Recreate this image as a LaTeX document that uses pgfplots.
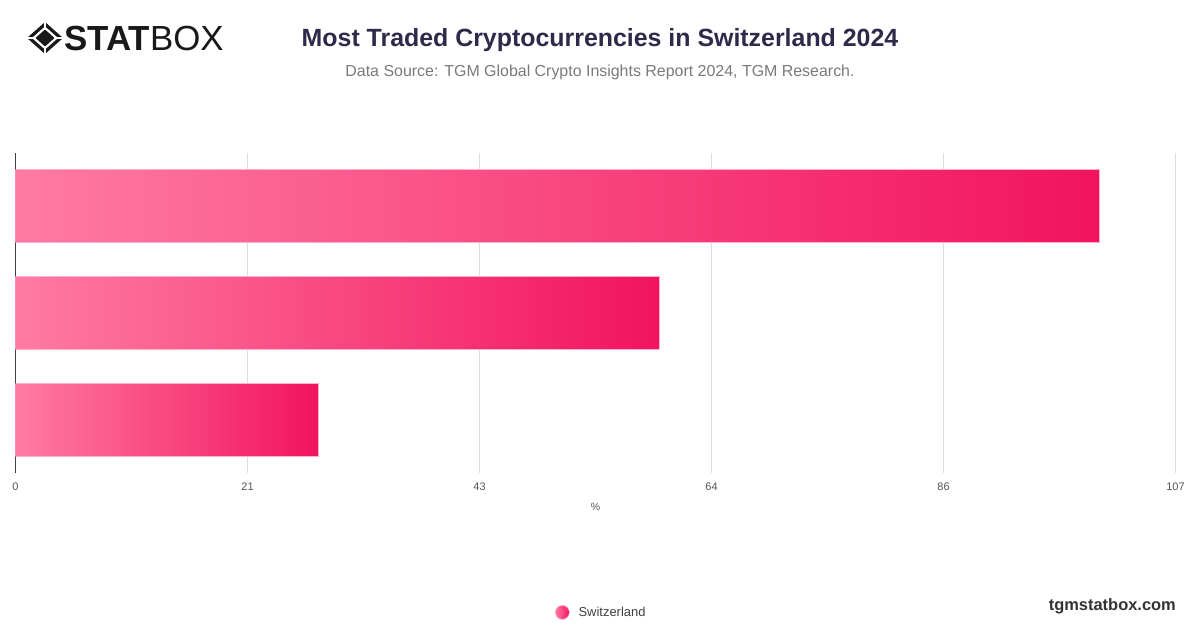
\documentclass[border=0pt]{standalone}
\usepackage{fontspec}
\setmainfont{Liberation Sans}
\usepackage{pgfplots}
\pgfplotsset{compat=1.18}
\definecolor{pinkL}{HTML}{FF7BA3}
\definecolor{pinkR}{HTML}{F2135F}
\definecolor{titlec}{HTML}{2E2B4A}
\definecolor{subc}{HTML}{7A7A7A}
\definecolor{tickc}{HTML}{555555}
\definecolor{gridc}{HTML}{DDDDDD}
\begin{document}
\begin{tikzpicture}[x=1bp,y=1bp]
\useasboundingbox[fill=white] (0,0) rectangle (1200,628);
% logo
\begin{scope}[shift={(45,590)}]
  \fill[black!90] (0,-16) -- (18,0) -- (0,16) -- (-18,0) -- cycle;
  \fill[white] (0,-11.5) -- (13,0) -- (0,11.5) -- (-13,0) -- cycle;
  \fill[black!90] (0,-8.5) -- (9.5,0) -- (0,8.5) -- (-9.5,0) -- cycle;
  \draw[white, line width=1.2pt] (-18,0) -- (-9,0) (18,0) -- (9,0) (0,16) -- (0,8) (0,-16) -- (0,-8);
\end{scope}
\node[anchor=west, inner sep=0pt, text=black!90] at (64,589) {\fontsize{35}{38}\selectfont\bfseries STAT\mdseries BOX};
% titles
\node[text=titlec] at (600,588) {\fontsize{25}{29}\selectfont\bfseries Most Traded Cryptocurrencies in Switzerland 2024};
\node[text=subc] at (600,555.5) {\fontsize{16}{19}\selectfont Data Source: TGM Global Crypto Insights Report 2024, TGM Research.};
\node[anchor=east, inner sep=0pt, text=black!80] at (1176,22) {\fontsize{16.5}{19}\selectfont\bfseries tgmstatbox.com};
\begin{axis}[
  at={(14.3,144.8)}, anchor=south west,
  scale only axis, width=1160bp, height=320.7bp,
  xmin=0, xmax=107, ymin=-0.5, ymax=2.5,
  xtick={0,21.4,42.8,64.2,85.6,107},
  xticklabels={0,21,43,64,86,107},
  ytick=\empty,
  major tick length=0pt,
  xmajorgrids, grid style={draw=gridc, line width=0.8pt},
  axis line style={draw=none},
  extra x ticks={0}, extra x tick labels={},
  extra x tick style={grid style={draw=black!75, line width=1.2pt}},
  xticklabel style={font=\fontsize{11}{13}\selectfont, text=tickc, yshift=-6bp},
  xlabel={\%}, xlabel style={at={(axis description cs:0.5,-0.104)}, anchor=center, font=\fontsize{10.5}{12}\selectfont, text=tickc},
  legend style={at={(axis description cs:0.505,-0.434)}, anchor=center, draw=none, fill=none,
    font=\fontsize{13}{15}\selectfont, text=black!75},
  legend image code/.code={\shade[left color=pinkL, right color=pinkR] (-0.065cm,0cm) circle (7bp);
     \path (-0.065cm,0cm) ++(14bp,0);},
  barsty/.style={xbar, bar shift=0pt, bar width=73.3bp, draw=pinkL!60, line width=0.5pt, left color=pinkL, right color=pinkR},
]
\addplot[barsty] coordinates {(100,2)};
\addlegendentry{Switzerland}
\addplot[barsty] coordinates {(59.4,1)};
\addplot[barsty] coordinates {(27.9,0)};
\end{axis}
\end{tikzpicture}
\end{document}
